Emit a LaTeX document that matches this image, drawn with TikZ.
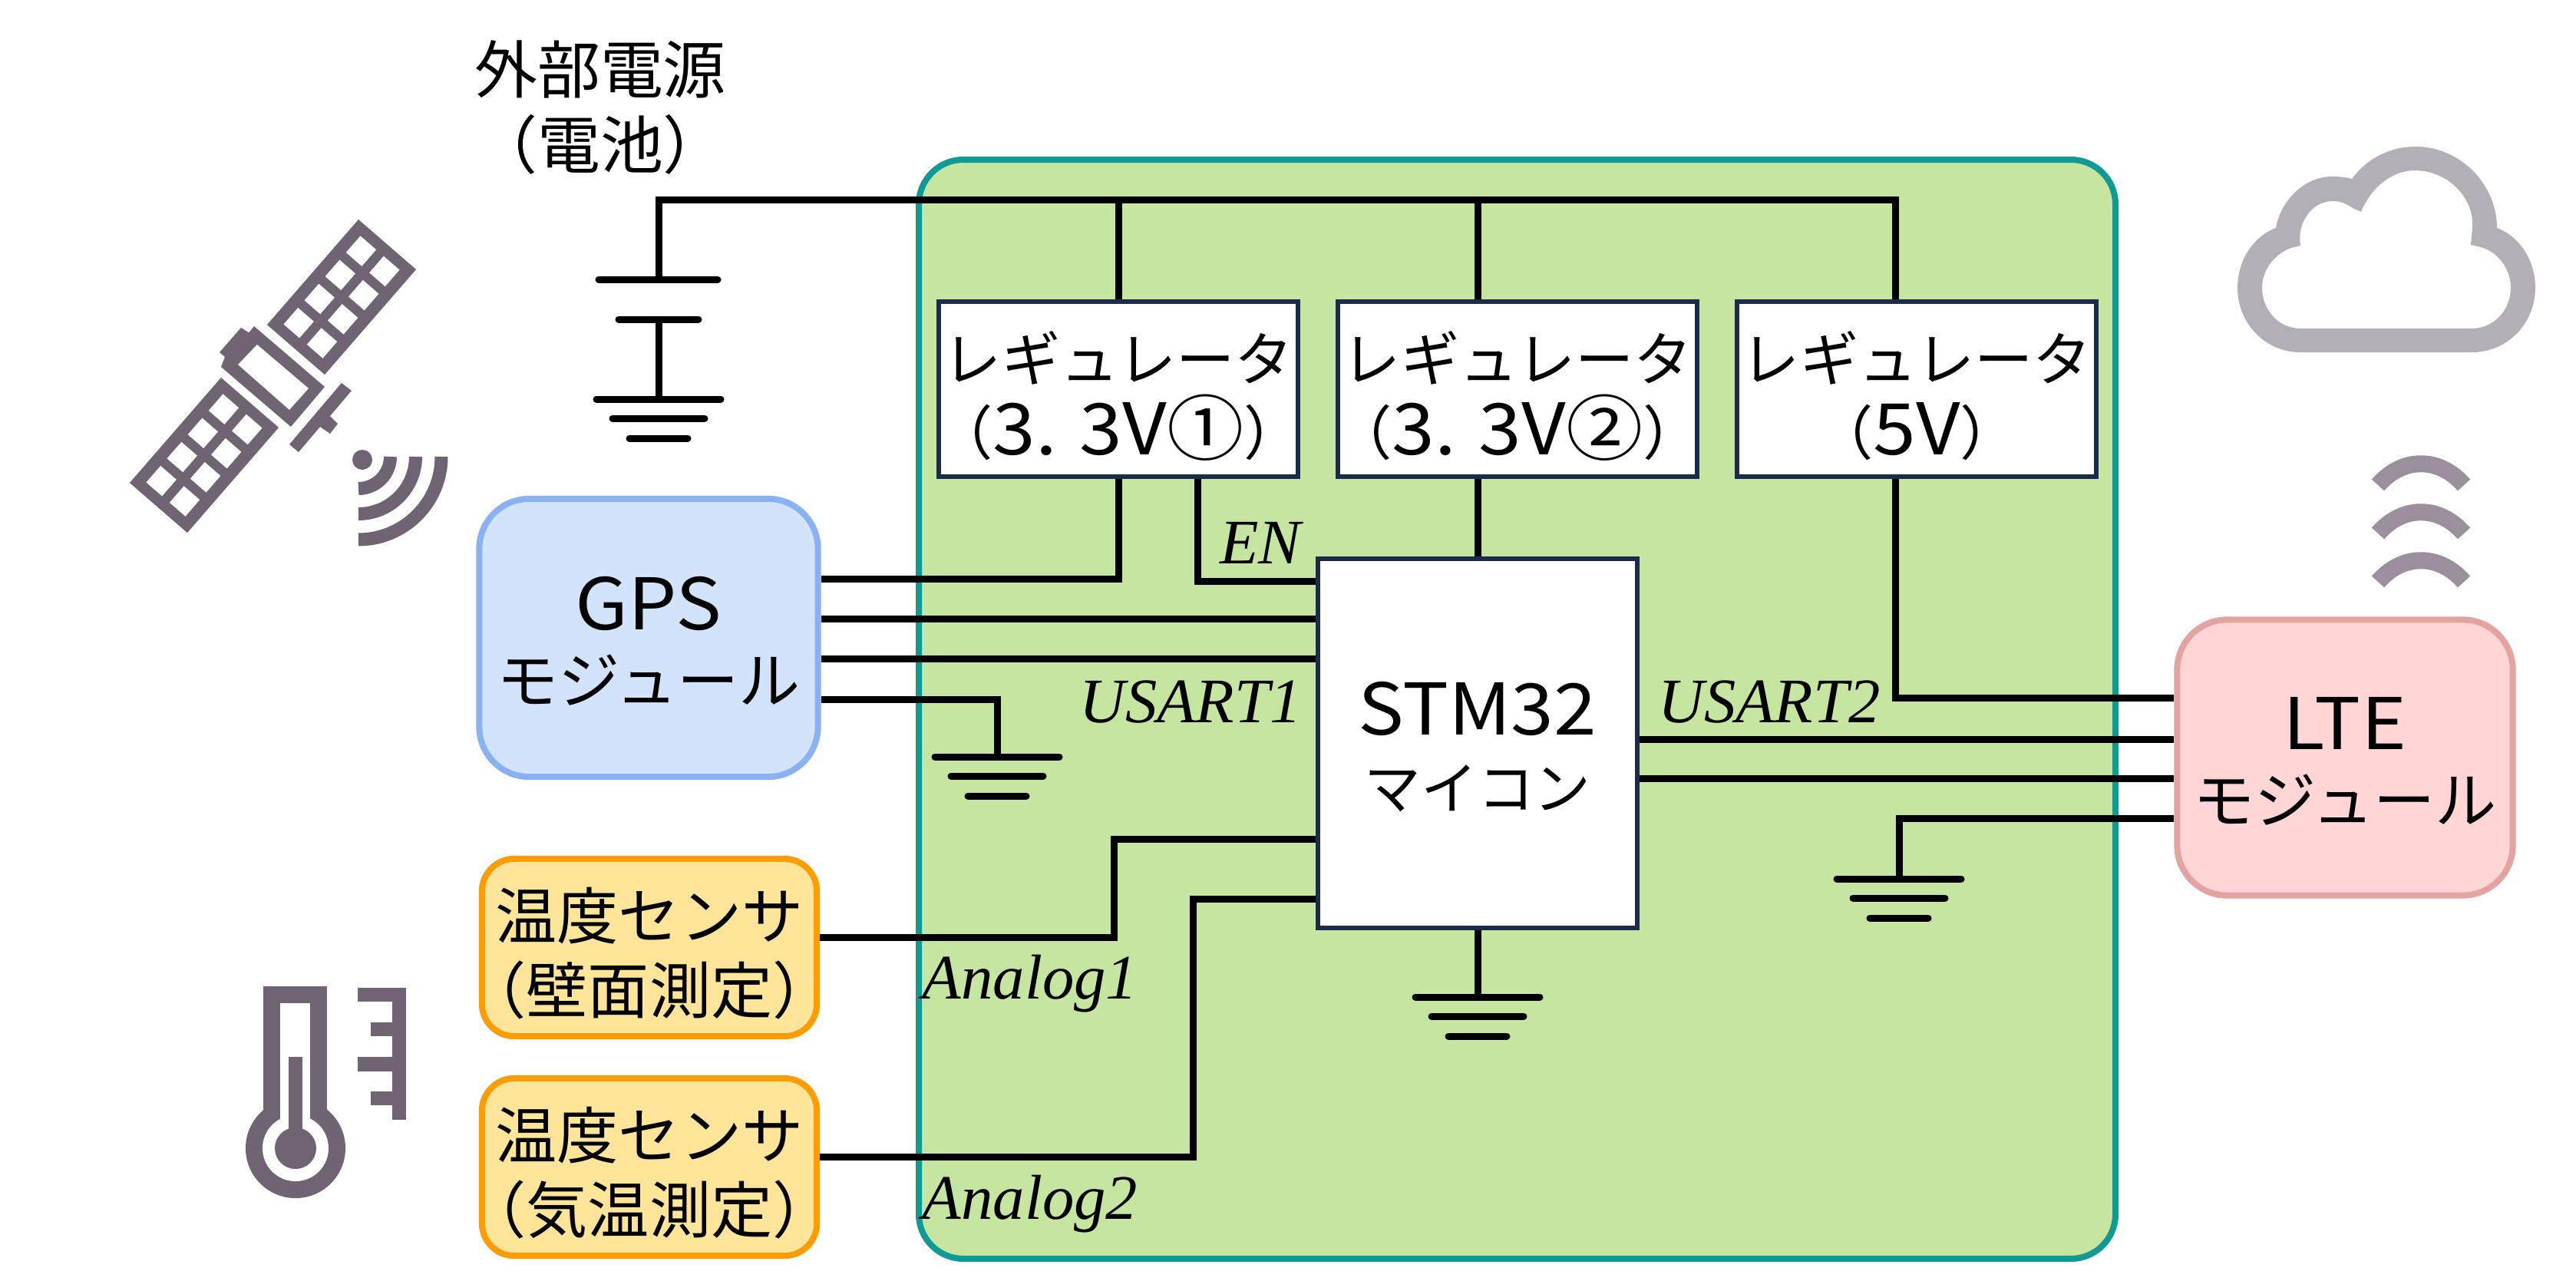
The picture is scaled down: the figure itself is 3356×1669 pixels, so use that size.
\documentclass[tikz,border=0pt]{standalone}
\usepackage{fontspec}
\setmainfont{Noto Sans CJK JP}
\newfontfamily\lblfont{Liberation Serif}
\newfontfamily\latfont[FakeStretch=1.08]{Noto Sans CJK JP}
\definecolor{icondark}{HTML}{6F6472}
\definecolor{iconcloud}{HTML}{B4AFB7}
\definecolor{iconwave}{HTML}{9A909C}
\definecolor{boardfill}{HTML}{C5E5A0}
\definecolor{boardline}{HTML}{0F9A96}
\definecolor{regline}{HTML}{1C2B4A}
\definecolor{gpsfill}{HTML}{D3E3FC}
\definecolor{gpsline}{HTML}{8AB2F3}
\definecolor{ltefill}{HTML}{FFD5D5}
\definecolor{lteline}{HTML}{E3A3A0}
\definecolor{sensfill}{HTML}{FFE59A}
\definecolor{sensline}{HTML}{FF9C00}
% latin runs are set larger than the kana
\newcommand{\lat}[1]{{\latfont\fontsize{26.4}{27.5}\selectfont #1}}
\newcommand{\nw}[1]{\raisebox{0pt}[0.75cm][0pt]{\makebox[0pt]{#1}}}
\tikzset{
    wire/.style={line width=0.09cm},
    plate/.style={line width=0.09cm,line cap=round},
    jtext/.style={font=\fontsize{22.8}{27.5}\selectfont,align=center,inner sep=0pt},
    regbox/.style={jtext,font=\fontsize{21.7}{27.5}\selectfont,draw=regline,fill=white,line width=0.06cm,minimum width=4.68cm,minimum height=2.28cm},
    modbox/.style={jtext,rounded corners=0.65cm,line width=0.08cm,minimum width=4.41cm,minimum height=3.62cm},
    sensbox/.style={jtext,draw=sensline,fill=sensfill,rounded corners=0.42cm,line width=0.08cm,minimum width=4.36cm,minimum height=2.31cm},
    siglabel/.style={font=\fontsize{23.5}{23.5}\selectfont\lblfont\itshape,inner sep=0pt},
    earth/.pic={
        \draw[plate](-81,0)--(81,0);
        \draw[plate](-60,25)--(60,25);
        \draw[plate](-38,51)--(38,51);
    },
    panel/.pic={
        \fill[icondark](0,0)--(1,0)--(1,1)--(0,1)--cycle;
        \foreach \u in {0.16,0.565}
            \foreach \v in {0.08,0.3075,0.535,0.7625}
                \fill[white](\u,\v)--++(0.275,0)--++(0,0.1575)--++(-0.275,0)--cycle;
    }
}
\begin{document}
\begin{tikzpicture}[x=0.01cm,y=-0.01cm]
    \useasboundingbox(0,0)rectangle(3356,1669);
    % board
    \fill[boardfill,draw=boardline,line width=0.08cm,rounded corners=0.58cm](1197,208)rectangle(2756,1640);
    % blocks
    \node[regbox](reg1)at(1457,507){\nw{レギュレータ}\\\nw{（\lat{3. 3V①}）}};
    \node[regbox](reg2)at(1977,507){\nw{レギュレータ}\\\nw{（\lat{3. 3V②}）}};
    \node[regbox](reg3)at(2497,507){\nw{レギュレータ}\\\nw{（\lat{5V}）}};
    \node[jtext,font=\fontsize{21}{27.5}\selectfont,draw=regline,fill=white,line width=0.06cm,minimum width=4.15cm,minimum height=4.80cm](stm)at(1925,968.5){\nw{\lat{STM32}}\\\nw{マイコン}};
    \node[modbox,draw=gpsline,fill=gpsfill](gps)at(845,831){\nw{\lat{GPS}}\\\nw{モジュール}};
    \node[modbox,draw=lteline,fill=ltefill,minimum width=4.37cm,minimum height=3.59cm](lte)at(3055,987){\nw{\lat{LTE}}\\\nw{モジュール}};
    \node[sensbox](temp1)at(846,1234.5){\nw{温度センサ}\\\nw{（壁面測定）}};
    \node[sensbox](temp2)at(846,1520.5){\nw{温度センサ}\\\nw{（気温測定）}};
    \node[jtext,font=\fontsize{23.3}{28}\selectfont](batname)at(782,140){外部電源\\（電池）};
    % named points on the wires
    \coordinate(bustop)at(858,260);
    \coordinate(busend)at(2469,260);
    \coordinate(batA)at(858,364);
    \coordinate(batB)at(858,416);
    \coordinate(batG)at(858,520);
    \coordinate(gndgps)at(1299,986);
    \coordinate(gndstm)at(1925,1299);
    \coordinate(gndlte)at(2474,1145);
    % power
    \draw[wire](batA)--(bustop)--(busend)--(reg3.north -| busend);
    \draw[wire](reg1.north)--(reg1.north |- bustop);
    \draw[wire](reg2.north -| stm.north)--(stm.north |- bustop);
    \draw[wire](batB)--(batG);
    \draw[plate](780,364)--(935,364);
    \draw[plate](806,416)--(910,416);
    \pic at(batG){earth};
    \draw[wire](reg1.south)--(reg1.south |- 0,754)--(gps.east |- 0,754);
    \draw[wire](reg1.south -| 1560,0)--(1560,757)--(stm.west |- 0,757);
    \draw[wire](reg2.south -| stm.north)--(stm.north);
    \draw[wire](reg3.south -| busend)--(busend |- 0,909)--(lte.west |- 0,909);
    % signals
    \foreach \yy in {806,858}
        \draw[wire](gps.east |- 0,\yy)--(stm.west |- 0,\yy);
    \foreach \yy in {963,1014}
        \draw[wire](stm.east |- 0,\yy)--(lte.west |- 0,\yy);
    \draw[wire](temp1.east |- 0,1221)--(1451,1221)--(1451,1093)--(stm.west |- 0,1093);
    \draw[wire](temp2.east |- 0,1507)--(1554,1507)--(1554,1171)--(stm.west |- 0,1171);
    % grounds
    \draw[wire](gps.east |- 0,911)--(gndgps |- 0,911)--(gndgps);
    \pic at(gndgps){earth};
    \draw[wire](stm.south)--(gndstm);
    \pic at(gndstm){earth};
    \draw[wire](lte.west |- 0,1066)--(gndlte |- 0,1066)--(gndlte);
    \pic at(gndlte){earth};
    % labels
    \node[siglabel](lblen)at(1642,707){EN};
    \node[siglabel](lblua)at(1551,915){USART1};
    \node[siglabel](lblub)at(2305,915){USART2};
    \node[siglabel](lblana)at(1342,1282){Analog1};
    \node[siglabel](lblanb)at(1342,1569){Analog2};
    % satellite
    \begin{scope}[shift={(467,286)},x={(0.75cm,-0.65cm)},y={(-1.19cm,-1.37cm)}]
        \pic{panel};
    \end{scope}
    \begin{scope}[shift={(288,492)},x={(0.75cm,-0.65cm)},y={(-1.19cm,-1.37cm)}]
        \pic{panel};
    \end{scope}
    \fill[icondark](331,425)--(423,504)--(379,556)--(288,478)--cycle;
    \fill[icondark](314,427)--(335,440)--(335,449)--(310,475)--(288,478)--(293,465)--(286,459)--cycle;
    \fill[white](335,449)--(402,506)--(377,534)--(310,475)--cycle;
    \fill[icondark](445,499)--(458,509)--(430,542)--(440,552)--(430,565)--(417,556)--(389,589)--(377,579)--cycle;
    \fill[icondark](472,599)circle[radius=0.13cm];
    \foreach \r in {41.5,74.5,108}
        \draw[icondark,line width=0.17cm](467+\r,595)..controls(467+\r,595+0.552*\r)and(467+0.552*\r,595+\r)..(467,595+\r);
    % thermometer
    \fill[icondark](343,1285)rectangle(426,1470);
    \fill[icondark](385,1496)circle[radius=0.65cm];
    \fill[white](365,1307)rectangle(404,1470);
    \fill[white](385,1496)circle[radius=0.43cm];
    \fill[icondark](376,1377)rectangle(394,1496);
    \fill[icondark](385,1496)circle[radius=0.27cm];
    \fill[icondark](511,1287)rectangle(529,1459);
    \fill[icondark](466,1287)rectangle(511,1305);
    \fill[icondark](483,1332)rectangle(511,1350);
    \fill[icondark](466,1377)rectangle(511,1396);
    \fill[icondark](483,1422)rectangle(511,1440);
    % cloud
    \fill[iconcloud,even odd rule](2997,459)..controls(2950,459)and(2915,420)..(2915,375)..controls(2915,340)and(2935,308)..(2965,297)..controls(2972,258)and(3005,230)..(3038,230)..controls(3047,230)and(3056,231)..(3064,233)..controls(3085,205)and(3115,191)..(3147,191)..controls(3205,191)and(3253,240)..(3253,297)..controls(3283,308)and(3303,340)..(3303,375)..controls(3303,420)and(3268,459)..(3220,459)--cycle
        (2997,428)..controls(2968,428)and(2947,403)..(2947,375)..controls(2947,350)and(2965,330)..(2985,323)--(2997,320)..controls(2992,290)and(3012,262)..(3039,262)..controls(3050,262)and(3058,266)..(3065,271)--(3076,276)..controls(3090,242)and(3118,222)..(3146,222)..controls(3187,222)and(3224,256)..(3221,297)--(3219,319)--(3232,322)..controls(3254,328)and(3271,350)..(3271,375)..controls(3271,403)and(3250,428)..(3220,428)--cycle;
    \foreach \dy in {0,63,126}
        \draw[iconwave,line width=0.22cm](3098,632+\dy)..controls(3130,595+\dy)and(3178,595+\dy)..(3210,632+\dy);
\end{tikzpicture}
\end{document}
